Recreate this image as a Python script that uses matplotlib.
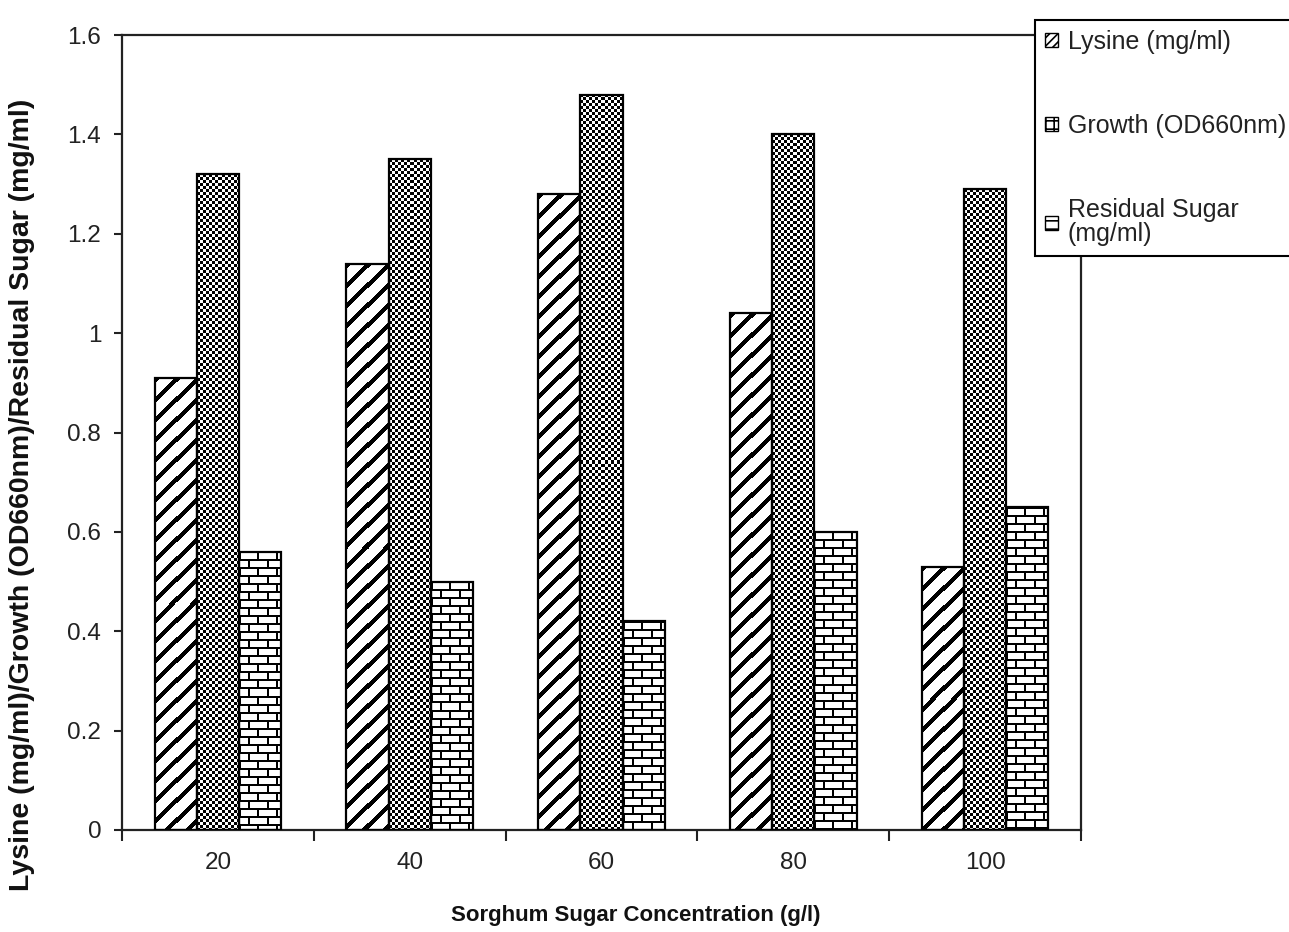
import numpy as np
import matplotlib
matplotlib.use("Agg")
import matplotlib.pyplot as plt
from matplotlib.patches import Patch

# ---- data -------------------------------------------------------------
concentrations = ["20", "40", "60", "80", "100"]
lysine = [0.91, 1.14, 1.28, 1.04, 0.53]
growth = [1.32, 1.35, 1.48, 1.40, 1.29]
residual_sugar = [0.56, 0.50, 0.42, 0.60, 0.65]
series_labels = ["Lysine (mg/ml)", "Growth (OD660nm)", "Residual Sugar\n(mg/ml)"]
y_ticks = [0, 0.2, 0.4, 0.6, 0.8, 1, 1.2, 1.4, 1.6]
y_tick_labels = ["0", "0.2", "0.4", "0.6", "0.8", "1", "1.2", "1.4", "1.6"]

plt.rcParams["font.family"] = ["Liberation Sans", "DejaVu Sans"]
plt.rcParams["hatch.linewidth"] = 1.2

W, H, DPI = 1289, 932, 100
fig = plt.figure(figsize=(W / DPI, H / DPI), dpi=DPI)
ax = fig.add_axes([122 / W, 102 / H, (1081 - 122) / W, (830 - 35) / H])

n = len(concentrations)
x = np.arange(n)
bw = 0.22
ax.set_xlim(-0.5, n - 0.5)
ax.set_ylim(0, 1.6)


def texture(kind, w, h):
    """Black/white fill pattern of w x h pixels (row 0 at the top)."""
    c = np.arange(w)[None, :]
    r = np.arange(h)[:, None]
    if kind == "stripe":
        dark = ((c + r) % 20) < 6
    elif kind == "checker":
        dark = ((c // 3 + r // 3) % 2) == 0
    else:  # brick
        off = ((r // 8) % 2) * 9
        dark = ((r % 8) < 2) | (((c + off) % 18) < 2)
    dark = np.broadcast_to(dark, (h, w))
    return np.where(dark, 0.0, 1.0)


series = [(lysine, -bw, "stripe"), (growth, 0.0, "checker"), (residual_sugar, bw, "brick")]
for vals, off, kind in series:
    bars = ax.bar(x + off, vals, bw, facecolor="none", edgecolor="black",
                  linewidth=1.6, zorder=3)
    for rect in bars:
        x0 = rect.get_x()
        x1 = x0 + rect.get_width()
        top = rect.get_height()
        p0 = ax.transData.transform((x0, 0))
        p1 = ax.transData.transform((x1, top))
        pw = max(1, int(round(p1[0] - p0[0])))
        ph = max(1, int(round(p1[1] - p0[1])))
        ax.imshow(texture(kind, pw, ph), extent=(x0, x1, 0, top), aspect="auto",
                  cmap="gray", vmin=0, vmax=1, interpolation="nearest", zorder=2)

ax.set_xlim(-0.5, n - 0.5)
ax.set_ylim(0, 1.6)

# category boundary ticks (unlabelled) and centred labels
ax.set_xticks(np.arange(n + 1) - 0.5)
ax.set_xticklabels([])
ax.set_xticks(x, minor=True)
ax.set_xticklabels(concentrations, minor=True)
ax.tick_params(axis="x", which="major", direction="out", length=8, width=1.5, color="#222222")
ax.tick_params(axis="x", which="minor", length=0, pad=16, labelsize=17.5, labelcolor="#222222")

ax.set_yticks(y_ticks)
ax.set_yticklabels(y_tick_labels)
ax.tick_params(axis="y", direction="out", length=6, width=1.5, pad=9,
               labelsize=17.5, labelcolor="#222222", color="#222222")

for s in ax.spines.values():
    s.set_linewidth(1.6)
    s.set_color("#222222")

fig.text(636 / W, 1 - 915 / H, "Sorghum Sugar Concentration (g/l)",
         ha="center", va="center", fontsize=16, fontweight="bold", color="#111111")
fig.text(22 / W, 1 - 495 / H, "Lysine (mg/ml)/Growth (OD660nm)/Residual Sugar (mg/ml)",
         ha="center", va="center", rotation=90, fontsize=20.5, fontweight="bold",
         color="#111111")

handles = [Patch(facecolor="white", edgecolor="black", hatch="////", lw=1),
           Patch(facecolor="white", edgecolor="black", hatch="++", lw=1),
           Patch(facecolor="white", edgecolor="black", hatch="--", lw=1)]
leg = fig.legend(handles, series_labels, loc="upper left",
                 bbox_to_anchor=(1035 / W, 1 - 20 / H), frameon=True, fancybox=False,
                 edgecolor="black", framealpha=1, borderaxespad=0, borderpad=0.4,
                 handlelength=0.5, handleheight=0.5, handletextpad=0.4,
                 labelspacing=2.4, fontsize=18)
leg.get_frame().set_linewidth(1.5)
for t in leg.get_texts():
    t.set_color("#222222")
    t.set_linespacing(1.0)

fig.savefig("out.png", dpi=DPI)
